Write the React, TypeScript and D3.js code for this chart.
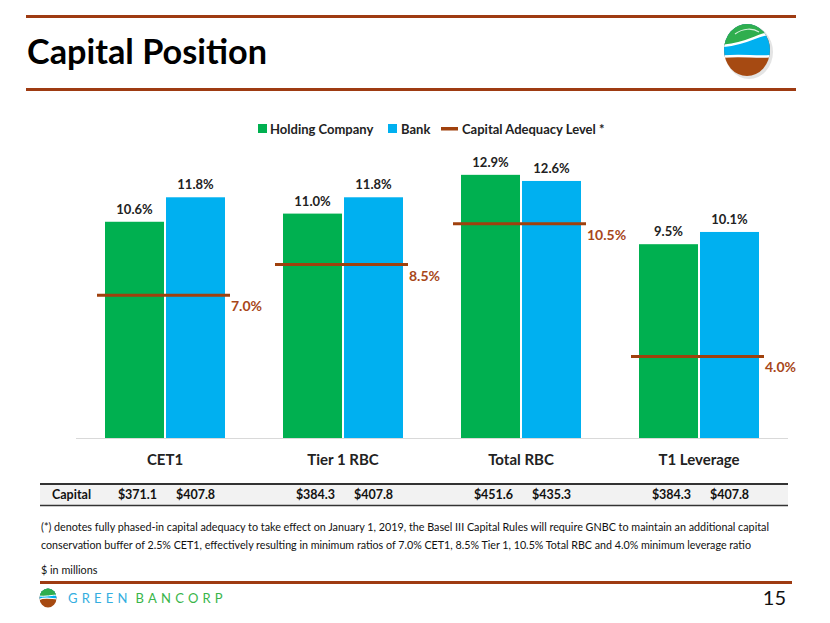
import React from "react";
import * as d3 from "d3";

const categories = ["CET1", "Tier 1 RBC", "Total RBC", "T1 Leverage"];
const seriesNames = ["Holding Company", "Bank"];
const holdingCompany = [10.6, 11.0, 12.9, 9.5];
const bank = [11.8, 11.8, 12.6, 10.1];
const adequacy = [7.0, 8.5, 10.5, 4.0];
const capitalHolding = ["$371.1", "$384.3", "$451.6", "$384.3"];
const capitalBank = ["$407.8", "$407.8", "$435.3", "$407.8"];

const GREEN = "#00B050";
const BLUE = "#00B0F0";
const BROWN = "#A0410D";
const RULE = "#9E3B12";
const FONT = "Lato, 'Open Sans', sans-serif";

export default function App() {
  const W = 830, H = 623;
  const x0 = d3.scaleBand<string>().domain(categories).range([76, 788]).padding(0);
  const x1 = d3.scaleBand<string>().domain(seriesNames).range([29, 149]).paddingInner(0.033).paddingOuter(0);
  const y = d3.scaleLinear().domain([0, 14]).range([438, 152.4]);
  const seriesVals = [holdingCompany, bank];
  const colors = [GREEN, BLUE];

  return (
    <svg width={W} height={H} viewBox={`0 0 ${W} ${H}`} style={{ position: "absolute", left: 0, top: 0, background: "#fff" }}>
      <rect x={0} y={0} width={W} height={H} fill="#fff" />
      {/* header rules */}
      <rect x={26} y={15} width={770} height={3} fill={RULE} />
      <rect x={26} y={88} width={770} height={3} fill={RULE} />
      <text x={27} y={64} fontFamily={FONT} fontWeight={700} fontSize={34} fill="#000" textLength={240} lengthAdjust="spacingAndGlyphs">Capital Position</text>

      {/* top-right logo */}
      <g transform="translate(747,50)">
        <ellipse cx={2} cy={2} rx={24} ry={27} fill="#e4e4e4" />
        <clipPath id="lg">
          <ellipse cx={0} cy={0} rx={23} ry={26} />
        </clipPath>
        <g clipPath="url(#lg)">
          <rect x={-26} y={-28} width={52} height={56} fill="#A64A12" />
          <path d="M-26,-28 H26 V6 C10,8 -8,4 -26,7 Z" fill={BLUE} />
          <path d="M-26,-28 H26 V-16 C12,-18 4,-6 -26,-4 Z" fill="#2FAE4E" />
          <path d="M-26,-4 C4,-6 12,-18 26,-16" stroke="#fff" strokeWidth={2.5} fill="none" />
          <path d="M-26,7 C-8,4 10,8 26,6" stroke="#fff" strokeWidth={2.5} fill="none" />
          <path d="M-12,-16 C-4,-22 6,-22 12,-18" stroke="#fff" strokeWidth={1.2} fill="none" opacity={0.8} />
        </g>
      </g>

      {/* legend */}
      <g fontFamily={FONT} fontWeight={700} fontSize={13} fill="#222">
        <rect x={258} y={124} width={9} height={9} fill={GREEN} />
        <text x={270} y={133.5}>Holding Company</text>
        <rect x={388} y={124} width={9} height={9} fill={BLUE} />
        <text x={401} y={133.5}>Bank</text>
        <rect x={441} y={127} width={17} height={3.5} fill={BROWN} />
        <text x={462} y={133.5}>Capital Adequacy Level *</text>
      </g>

      {/* axis line */}
      <line x1={76} x2={788} y1={438.5} y2={438.5} stroke="#d9d9d9" strokeWidth={1} />

      {categories.map((c, i) => {
        const gx = x0(c)!;
        const cx = gx + x0.bandwidth() / 2;
        return (
          <g key={c}>
            {seriesNames.map((s, j) => {
              const v = seriesVals[j][i];
              const bx = gx + x1(s)!;
              return (
                <g key={s}>
                  <rect x={bx} y={y(v)} width={x1.bandwidth()} height={y(0) - y(v)} fill={colors[j]} />
                  <text x={bx + x1.bandwidth() / 2} y={y(v) - 8} textAnchor="middle" fontFamily={FONT} fontWeight={700} fontSize={13} fill="#222">
                    {v.toFixed(1)}%
                  </text>
                </g>
              );
            })}
            <line x1={cx - 68} x2={cx + 65} y1={y(adequacy[i])} y2={y(adequacy[i])} stroke={BROWN} strokeWidth={3} />
            <text x={cx + 66} y={y(adequacy[i]) + 16} fontFamily={FONT} fontWeight={700} fontSize={14} fill="#A8471A">
              {adequacy[i].toFixed(1)}%
            </text>
            <text x={cx} y={465} textAnchor="middle" fontFamily={FONT} fontWeight={700} fontSize={15} fill="#222">{c}</text>
          </g>
        );
      })}

      {/* capital table row */}
      <rect x={40} y={484} width={748} height={21} fill="#F2F2F2" />
      <line x1={40} x2={788} y1={484} y2={484} stroke="#333" strokeWidth={2} />
      <line x1={40} x2={788} y1={505.5} y2={505.5} stroke="#333" strokeWidth={1.5} />
      <text x={52} y={498.5} fontFamily={FONT} fontWeight={700} fontSize={12.5} fill="#111">Capital</text>
      {categories.map((c, i) => {
        const gx = x0(c)!;
        return (
          <g key={"cap" + c} fontFamily={FONT} fontWeight={700} fontSize={12.5} fill="#111">
            <text x={gx + x1(seriesNames[0])! + x1.bandwidth() / 2 + 3} y={498.5} textAnchor="middle">{capitalHolding[i]}</text>
            <text x={gx + x1(seriesNames[1])! + x1.bandwidth() / 2} y={498.5} textAnchor="middle">{capitalBank[i]}</text>
          </g>
        );
      })}

      {/* footnote */}
      <g fontFamily={FONT} fontSize={10.8} fill="#111">
        <text x={41} y={531} textLength={728} lengthAdjust="spacingAndGlyphs">(*) denotes fully phased-in capital adequacy to take effect on January 1, 2019, the Basel III Capital Rules will require GNBC to maintain an additional capital</text>
        <text x={41} y={549} textLength={710} lengthAdjust="spacingAndGlyphs">conservation buffer of 2.5% CET1, effectively resulting in minimum ratios of 7.0% CET1, 8.5% Tier 1, 10.5% Total RBC and 4.0% minimum leverage ratio</text>
        <text x={41} y={574}>$ in millions</text>
      </g>

      {/* bottom rule and footer */}
      <rect x={40} y={581} width={752} height={3} fill={RULE} />
      <g transform="translate(48,598)">
        <clipPath id="lg2">
          <ellipse cx={0} cy={0} rx={8.5} ry={9.5} />
        </clipPath>
        <g clipPath="url(#lg2)">
          <rect x={-10} y={-10} width={20} height={20} fill="#A64A12" />
          <path d="M-10,-10 H10 V1 C4,1 -3,-2 -10,2 Z" fill={BLUE} />
          <path d="M-10,-10 H10 V-3 C4,-3 -3,-1 -10,-2 Z" fill="#2FAE4E" />
          <path d="M-10,-2 C-3,-1 4,-3 10,-3" stroke="#fff" strokeWidth={1} fill="none" />
          <path d="M-10,2 C-3,-2 4,1 10,1" stroke="#fff" strokeWidth={1.2} fill="none" />
        </g>
      </g>
      <text x={68} y={603} fontFamily={FONT} fontSize={13} letterSpacing={4.2}>
        <tspan fill="#34AEE0">GREEN</tspan>
        <tspan fill="#39B54A" dx={4}>BANCORP</tspan>
      </text>
      <text x={786} y={605} textAnchor="end" fontFamily={FONT} fontSize={20} fill="#111">15</text>
    </svg>
  );
}
